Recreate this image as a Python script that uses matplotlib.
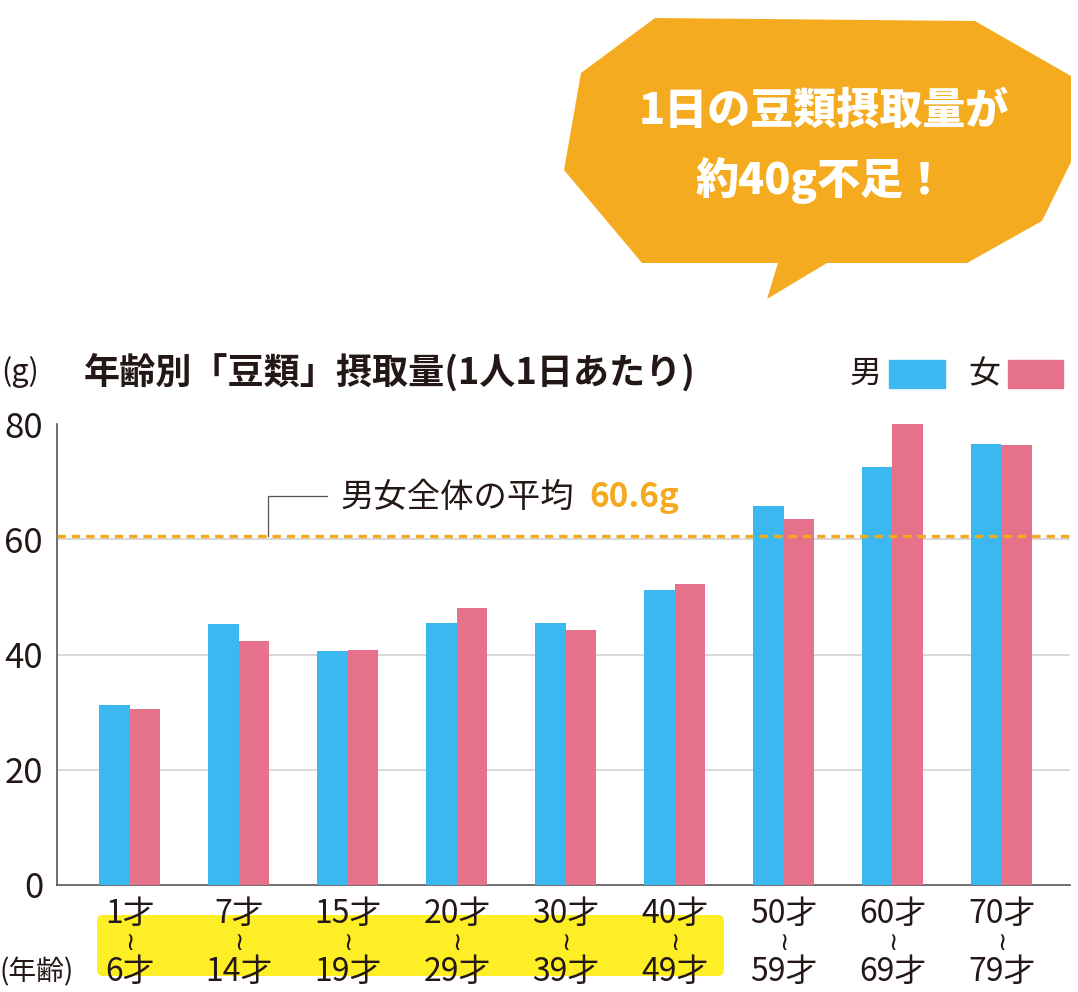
import matplotlib
matplotlib.use("Agg")
import matplotlib.pyplot as plt
from matplotlib.patches import Polygon, FancyBboxPatch, Rectangle
from matplotlib.lines import Line2D
import numpy as np

plt.rcParams['font.family'] = ['Noto Sans CJK JP', 'DejaVu Sans']

# ---- data ----
age_from = ["1才", "7才", "15才", "20才", "30才", "40才", "50才", "60才", "70才"]
age_to = ["6才", "14才", "19才", "29才", "39才", "49才", "59才", "69才", "79才"]
male = [31.3, 45.3, 40.6, 45.4, 45.4, 51.2, 65.7, 72.5, 76.5]
female = [30.6, 42.3, 40.8, 48.0, 44.2, 52.2, 63.5, 80.6, 76.3]
average = 60.6
yticks = [0, 20, 40, 60, 80]
title = "年齢別「豆類」摂取量(1人1日あたり)"
bubble_lines = ["1日の豆類摂取量が", "約40g不足！"]

BLUE = "#3BB8EF"
PINK = "#E5718A"
ORANGE = "#F5A91F"
YELLOW = "#FDEE25"
DARK = "#231815"

W, H = 1078, 992
fig = plt.figure(figsize=(W / 100, H / 100), dpi=100)


def fx(px):
    return px / W


def fy(py):
    return 1 - py / H


ax = fig.add_axes([fx(57), fy(885), fx(1070) - fx(57), fy(424) - fy(885)])
x = np.arange(len(male))
bw = 0.28
ax.bar(x - bw / 2, male, width=bw, color=BLUE, zorder=3)
ax.bar(x + bw / 2, female, width=bw, color=PINK, zorder=3)
ax.set_xlim(-0.67, 8.63)
ax.set_ylim(0, 80)
ax.set_yticks(yticks)
ax.set_yticklabels([str(t) for t in yticks], fontsize=25, color=DARK)
ax.tick_params(axis='y', length=0, pad=10)
ax.set_xticks([])
for t in [20, 40, 60]:
    ax.axhline(t, color="#d6d6d6", lw=1.3, zorder=1)
for s in ["top", "right"]:
    ax.spines[s].set_visible(False)
ax.spines["left"].set_color("#555555")
ax.spines["bottom"].set_color("#555555")
ax.spines["left"].set_linewidth(1.2)
ax.spines["bottom"].set_linewidth(1.2)

# average line
ax.axhline(average, color=ORANGE, lw=2.4, linestyle=(0, (2.5, 1.8)), zorder=4)

# leader line + annotation
lx = -0.67 + (268 - 57) / 109
ax.add_line(Line2D([lx, lx, -0.67 + (327 - 57) / 109], [average, 67.5, 67.5],
                   color="#555555", lw=0.9, zorder=5, clip_on=False))
fig.text(fx(341), fy(497), "男女全体の平均", fontsize=24, color=DARK,
         ha="left", va="center")
fig.text(fx(589), fy(497), f"{average}g", fontsize=24, color=ORANGE,
         fontweight="bold", ha="left", va="center")

# yellow highlight box
box = FancyBboxPatch((fx(97), fy(976)), fx(724) - fx(97), fy(915) - fy(976),
                     boxstyle="round,pad=0,rounding_size=0.006",
                     transform=fig.transFigure, facecolor=YELLOW,
                     edgecolor="none", zorder=0)
fig.patches.append(box)

# x labels
for i in range(len(male)):
    xp = 57 + (i + 0.67) * 109
    fig.text(fx(xp), fy(914), age_from[i], fontsize=23, color=DARK,
             ha="center", va="center")
    fig.text(fx(xp), fy(943), "≀", fontsize=18, color=DARK, family="DejaVu Sans",
             ha="center", va="center")
    fig.text(fx(xp), fy(972), age_to[i], fontsize=23, color=DARK,
             ha="center", va="center")
fig.text(fx(0), fy(972), "(年齢)", fontsize=20, color=DARK,
         ha="left", va="center")

# title, unit
fig.text(fx(1), fy(372), "(g)", fontsize=22, color=DARK, ha="left", va="center")
fig.text(fx(84), fy(372), title, fontsize=26, fontweight="bold", color=DARK,
         ha="left", va="center")

# legend
fig.text(fx(866), fy(374), "男", fontsize=23, color=DARK, ha="center", va="center")
fig.patches.append(Rectangle((fx(889), fy(388)), fx(945) - fx(889), fy(360) - fy(388),
                             transform=fig.transFigure, color=BLUE))
fig.text(fx(984), fy(374), "女", fontsize=23, color=DARK, ha="center", va="center")
fig.patches.append(Rectangle((fx(1008), fy(388)), fx(1063) - fx(1008), fy(360) - fy(388),
                             transform=fig.transFigure, color=PINK))

# speech bubble
pts_px = [(655, 18), (975, 21), (1071, 76), (1071, 162), (1042, 221), (967, 263),
          (827, 263), (767, 299), (778, 263), (642, 263), (564, 170), (581, 73)]
bubble = Polygon([(fx(a), fy(b)) for a, b in pts_px], closed=True,
                 transform=fig.transFigure, facecolor="#F4AB1F", edgecolor="none")
fig.patches.append(bubble)
fig.text(fx(824), fy(111), bubble_lines[0], fontsize=31, fontweight="heavy",
         color="white", ha="center", va="center")
fig.text(fx(821), fy(181), bubble_lines[1], fontsize=31, fontweight="heavy",
         color="white", ha="center", va="center")

fig.savefig("out.png", dpi=100)
